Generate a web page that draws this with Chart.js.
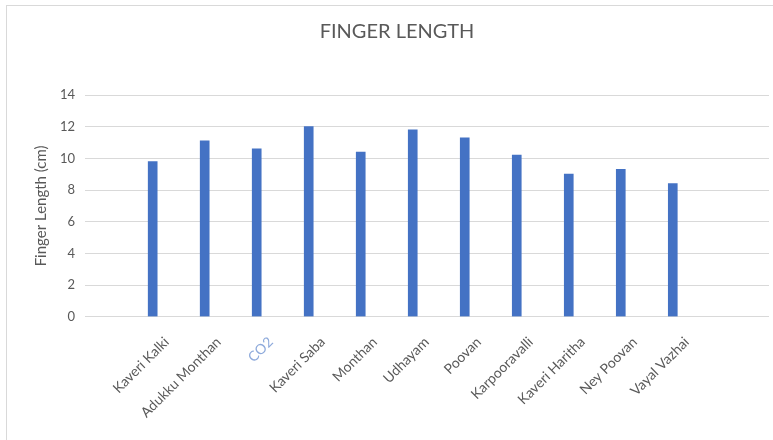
<!DOCTYPE html>
<html>
<head>
<meta charset="utf-8">
<script src="https://cdn.jsdelivr.net/npm/chart.js@4.4.1/dist/chart.umd.min.js"></script>
<style>
  html, body { margin: 0; padding: 0; background: #fff; }
  #wrap { position: relative; width: 773px; height: 440px; overflow: hidden; }
  /* thin frame around the chart, only top and left edges are in view */
  #frame { position: absolute; left: 6px; top: 5px; width: 800px; height: 500px; border: 1px solid #d9d9d9; box-sizing: border-box; }
  #chart { position: absolute; left: 0; top: 0; }
</style>
</head>
<body>
<div id="wrap">
  <div id="frame"></div>
  <canvas id="chart" width="773" height="440"></canvas>
</div>
<script>
const varieties = ['Kaveri Kalki', 'Adukku Monthan', 'CO2', 'Kaveri Saba', 'Monthan', 'Udhayam',
  'Poovan', 'Karpooravalli', 'Kaveri Haritha', 'Ney Poovan', 'Vayal Vazhai'];
const fingerLength = [9.8, 11.1, 10.6, 12.0, 10.4, 11.8, 11.3, 10.2, 9.0, 9.3, 8.4];
const yTicks = [0, 2, 4, 6, 8, 10, 12, 14];

const grey = '#595959';
const FONT = 'Lato, "Open Sans", sans-serif';

new Chart(document.getElementById('chart'), {
  type: 'bar',
  data: {
    datasets: [{
      label: 'Finger Length (cm)',
      data: fingerLength.map((v, i) => ({ x: i, y: v })),
      backgroundColor: '#4472c4',
      barThickness: 9
    }]
  },
  options: {
    responsive: false,
    animation: false,
    layout: { padding: { left: 25, right: 4, top: 14, bottom: 10 } },
    plugins: {
      legend: { display: false },
      tooltip: { enabled: false },
      title: {
        display: true,
        text: 'FINGER LENGTH',
        color: grey,
        font: { family: FONT, size: 20, weight: 'normal' },
        padding: { top: 6, bottom: 51 }
      }
    },
    scales: {
      x: {
        type: 'linear',
        offset: false,
        min: -1.3,
        max: 11.85,
        grid: { display: false },
        border: { display: false },
        // one tick per variety, at the bar centres
        afterBuildTicks: (scale) => { scale.ticks = varieties.map((_, i) => ({ value: i })); },
        ticks: {
          autoSkip: false,
          maxRotation: 45,
          minRotation: 45,
          labelOffset: 14,
          padding: 9,
          color: (ctx) => ctx.index === 2 ? '#8eaadb' : grey,
          font: { family: FONT, size: 14 },
          callback: (v) => varieties[v] ?? ''
        }
      },
      y: {
        min: 0,
        max: 14,
        afterBuildTicks: (scale) => { scale.ticks = yTicks.map(v => ({ value: v })); },
        grid: { color: '#d9d9d9', drawTicks: false },
        border: { display: false },
        ticks: {
          color: grey,
          padding: 10,
          font: { family: FONT, size: 13 }
        },
        title: {
          display: true,
          text: 'Finger Length (cm)',
          color: grey,
          font: { family: FONT, size: 15 },
          padding: { top: 7, bottom: 0 }
        }
      }
    }
  }
});
</script>
</body>
</html>
